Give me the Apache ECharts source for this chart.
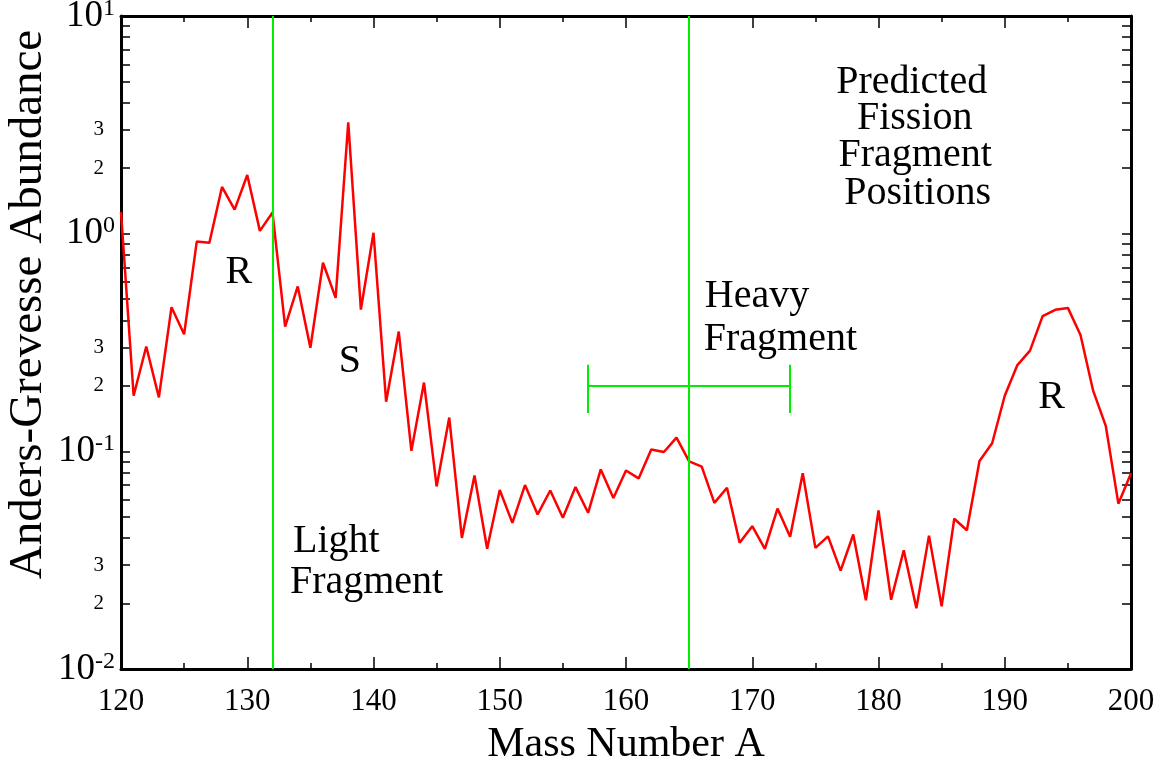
<!DOCTYPE html>
<html>
<head>
<meta charset="utf-8">
<script src="https://cdn.jsdelivr.net/npm/echarts@6/dist/echarts.min.js"></script>
<style>
html,body{margin:0;padding:0;background:#fff;}
#chart{width:1162px;height:763px;}
</style>
</head>
<body>
<div id="chart"></div>
<script>
// ---- data ----
var massNumbers = [120,121,122,123,124,125,126,127,128,129,130,131,132,133,134,135,136,137,138,139,140,
  141,142,143,144,145,146,147,148,149,150,151,152,153,154,155,156,157,158,159,160,
  161,162,163,164,165,166,167,168,169,170,171,172,173,174,175,176,177,178,179,180,
  181,182,183,184,185,186,187,188,189,190,191,192,193,194,195,196,197,198,199,200];
var abundance = [1.26,0.18,0.303,0.177,0.459,0.345,0.92,0.909,1.64,1.29,1.86,1.03,1.25,0.374,0.572,0.299,0.735,0.507,3.25,0.448,1.01,
  0.169,0.355,0.1005,0.207,0.069,0.143,0.040,0.0775,0.0357,0.0664,0.0469,0.070,0.0513,0.0661,0.0495,0.0685,0.0522,0.0826,0.061,0.0817,
  0.0751,0.102,0.0993,0.1156,0.090,0.085,0.058,0.068,0.038,0.0453,0.0356,0.0546,0.0405,0.0793,0.036,0.0407,0.0283,0.0415,0.0207,0.0535,
  0.0208,0.0351,0.019,0.041,0.0194,0.049,0.0434,0.0902,0.1089,0.18,0.249,0.29,0.418,0.447,0.456,0.342,0.19,0.131,0.0575,0.0793];
var fragmentPositions = [132, 165];           // vertical markers (mass number)
var heavyRange = [157, 173];                   // horizontal range bar ends
var heavyRangeLevel = 0.2;                     // abundance level of the bar
var heavyCapSpan = [0.15, 0.25];               // cap extents
var yTickValues = [0.01,0.02,0.03,0.04,0.05,0.06,0.07,0.08,0.09,0.1,0.2,0.3,0.4,0.5,0.6,0.7,0.8,0.9,1,2,3,4,5,6,7,8,9,10];
var yLabelValues = [0.01,0.02,0.03,0.1,0.2,0.3,1,2,3,10];
var xTitle = 'Mass Number A';
var yTitle = 'Anders-Grevesse Abundance';

// annotations anchored in data coordinates
var annotations = [
  {text:'R', x:129.34, y:0.66, align:'center'},
  {text:'S', x:138.13, y:0.2575, align:'center'},
  {text:'R', x:193.71, y:0.176, align:'center'},
  {text:'Light', x:133.62, y:0.0384, align:'left'},
  {text:'Fragment', x:133.38, y:0.0251, align:'left'},
  {text:'Heavy', x:166.24, y:0.512, align:'left'},
  {text:'Fragment', x:166.16, y:0.328, align:'left'},
  {text:'Predicted', x:182.63, y:4.97, align:'center'},
  {text:'Fission', x:182.87, y:3.365, align:'center'},
  {text:'Fragment', x:182.9, y:2.275, align:'center'},
  {text:'Positions', x:183.1, y:1.522, align:'center'}
];

var FONT = '"Liberation Serif", "Times New Roman", serif';
var seriesData = massNumbers.map(function(m, i){ return [m, abundance[i]]; });

var green = '#00ee00';
var markData = fragmentPositions.map(function(v){ return {xAxis: v}; });
markData.push([{coord:[heavyRange[0], heavyRangeLevel]}, {coord:[heavyRange[1], heavyRangeLevel]}]);
markData.push([{coord:[heavyRange[0], heavyCapSpan[0]]}, {coord:[heavyRange[0], heavyCapSpan[1]]}]);
markData.push([{coord:[heavyRange[1], heavyCapSpan[0]]}, {coord:[heavyRange[1], heavyCapSpan[1]]}]);

function yLabelFmt(v){
  var e = Math.round(Math.log10(v));
  if (Math.abs(v - Math.pow(10, e)) < 1e-6 * v) return '{b|10}{s|' + e + '}';
  var d = Math.round(v / Math.pow(10, Math.floor(Math.log10(v) + 1e-9)));
  return '{m|' + d + '}';
}

var axisLineStyle = {color:'#000', width:3};
var tickStyle = {color:'#000', width:1.5};

var chart = echarts.init(document.getElementById('chart'), null, {renderer:'canvas'});
var option = {
  animation: false,
  backgroundColor: '#fff',
  grid: {left:121, right:31, top:16, bottom:94, containLabel:false, outerBoundsMode:'none'},
  xAxis: [{
    type:'value', min:120, max:200, interval:10, position:'bottom',
    axisLine:{show:true, onZero:false, lineStyle:axisLineStyle},
    axisTick:{show:true, inside:true, length:12, lineStyle:tickStyle},
    minorTick:{show:true, splitNumber:2, length:6, lineStyle:tickStyle},
    splitLine:{show:false}, minorSplitLine:{show:false},
    axisLabel:{fontFamily:FONT, fontSize:31, color:'#000', margin:17},
    name:xTitle, nameLocation:'middle', nameGap:55, nameMoveOverlap:false,
    nameTextStyle:{fontFamily:FONT, fontSize:42, color:'#000', verticalAlign:'top'}
  },{
    type:'value', min:120, max:200, interval:10, position:'top',
    axisLine:{show:true, onZero:false, lineStyle:axisLineStyle},
    axisTick:{show:true, inside:true, length:12, lineStyle:tickStyle},
    minorTick:{show:true, splitNumber:2, length:6, lineStyle:tickStyle},
    splitLine:{show:false}, axisLabel:{show:false}
  }],
  yAxis: [{
    type:'log', logBase:10, min:0.01, max:10, position:'left',
    axisLine:{show:true, onZero:false, lineStyle:axisLineStyle},
    axisTick:{show:true, inside:true, length:9, lineStyle:tickStyle, customValues:yTickValues},
    splitLine:{show:false},
    axisLabel:{
      customValues:yLabelValues, formatter:yLabelFmt, margin:6,
      rich:{
        b:{fontFamily:FONT, fontSize:37, color:'#000'},
        s:{fontFamily:FONT, fontSize:24, color:'#000', padding:[0,0,15,0]},
        m:{fontFamily:FONT, fontSize:21, color:'#000', padding:[0,11,0,0]}
      }
    },
    name:yTitle, nameLocation:'middle', nameGap:69, nameRotate:90, nameMoveOverlap:false,
    nameTextStyle:{fontFamily:FONT, fontSize:47, color:'#000', padding:[0,0,0,76]}
  },{
    type:'log', logBase:10, min:0.01, max:10, position:'right',
    axisLine:{show:true, onZero:false, lineStyle:axisLineStyle},
    axisTick:{show:true, inside:true, length:9, lineStyle:tickStyle, customValues:yTickValues},
    splitLine:{show:false}, axisLabel:{show:false}
  }],
  series: [{
    type:'line', xAxisIndex:0, yAxisIndex:0, data:seriesData,
    symbol:'none', lineStyle:{color:'#ff0000', width:2.5}, z:3,
    markLine:{
      silent:true, symbol:['none','none'], label:{show:false},
      lineStyle:{color:green, width:2, type:'solid'},
      emphasis:{disabled:true},
      data: markData
    }
  }]
};
chart.setOption(option);

var graphics = annotations.map(function(a){
  var p = chart.convertToPixel({xAxisIndex:0, yAxisIndex:0}, [a.x, a.y]);
  return {
    type:'text', x:p[0], y:p[1], silent:true, z:10,
    style:{text:a.text, fontFamily:FONT, fontSize:40, fill:'#000', align:a.align, verticalAlign:'middle'}
  };
});
chart.setOption({graphic: graphics});
</script>
</body>
</html>
